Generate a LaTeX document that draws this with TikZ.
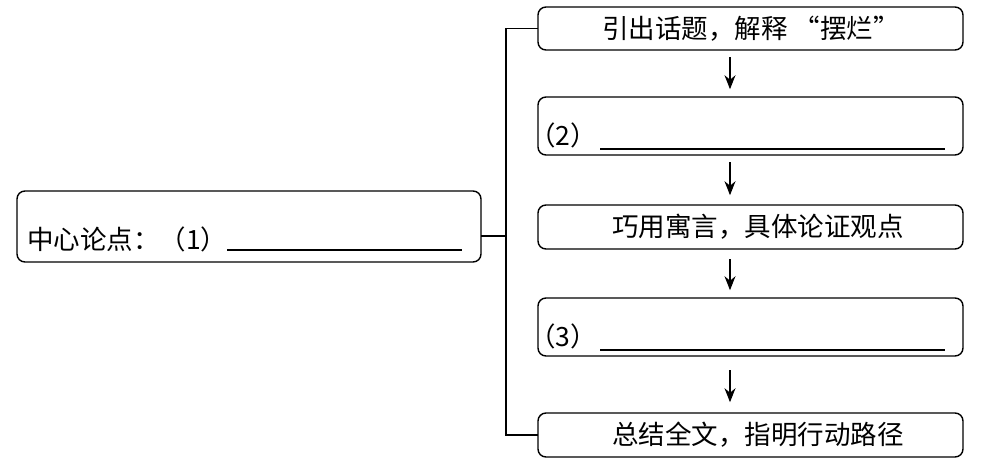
\documentclass[tikz,border=0pt]{standalone}
\usepackage{fontspec}
\newfontfamily\cjk{Noto Sans CJK SC}
\usetikzlibrary{arrows.meta}
\begin{document}
\begin{tikzpicture}[x=1pt,y=-1pt,
  boxstyle/.style={draw, line width=1.4pt, rounded corners=8pt},
  txt/.style={font=\cjk\fontsize{26.5}{30}\selectfont, inner sep=0pt},
  link/.style={line width=1.4pt},
  arr/.style={line width=1.2pt, -{Stealth[length=14pt,width=11pt]}},
  blank/.style={line width=1.2pt}]
\useasboundingbox (0,0) rectangle (993,461);
% boxes
\draw[boxstyle] (17,191) rectangle (481,262);
\node[inner sep=0pt, minimum width=464pt, minimum height=71pt] (L) at (249,226.5) {};
\draw[boxstyle] (538,7) rectangle (963,50);
\node[inner sep=0pt, minimum width=425pt, minimum height=43pt] (B1) at (750.5,28.5) {};
\draw[boxstyle] (538,97) rectangle (963,155);
\node[inner sep=0pt, minimum width=425pt, minimum height=58pt] (B2) at (750.5,126) {};
\draw[boxstyle] (538,205) rectangle (963,249);
\node[inner sep=0pt, minimum width=425pt, minimum height=44pt] (B3) at (750.5,227) {};
\draw[boxstyle] (538,298) rectangle (963,356);
\node[inner sep=0pt, minimum width=425pt, minimum height=58pt] (B4) at (750.5,327) {};
\draw[boxstyle] (538,413) rectangle (963,457);
\node[inner sep=0pt, minimum width=425pt, minimum height=44pt] (B5) at (750.5,435) {};
% texts
\node[txt, anchor=base west] (tL) at (27,249) {中心论点：（1）};
\draw[blank] (227,250) -- (462,250);
\node[txt] (t1) at (751,29) {引出话题，解释 “摆烂”};
\node[txt, anchor=base west] (t2) at (529,145) {（2）};
\draw[blank] (600,149) -- (945,149);
\node[txt] (t3) at (758,227) {巧用寓言，具体论证观点};
\node[txt, anchor=base west] (t4) at (529,346) {（3）};
\draw[blank] (600,350) -- (945,350);
\node[txt] (t5) at (758,435) {总结全文，指明行动路径};
% connectors
\coordinate (j) at (506,236);
\coordinate (ax) at (730,0);
\draw[link] (B1.west) -| (j) |- (B5.west);
\draw[link] (L.east |- j) -- (j);
\draw[arr] (B1.south -| ax) ++(0,7) -- ++(0,32);
\draw[arr] (B2.south -| ax) ++(0,7) -- ++(0,33);
\draw[arr] (B3.south -| ax) ++(0,10) -- ++(0,31);
\draw[arr] (B4.south -| ax) ++(0,14) -- ++(0,32);
\end{tikzpicture}
\end{document}
